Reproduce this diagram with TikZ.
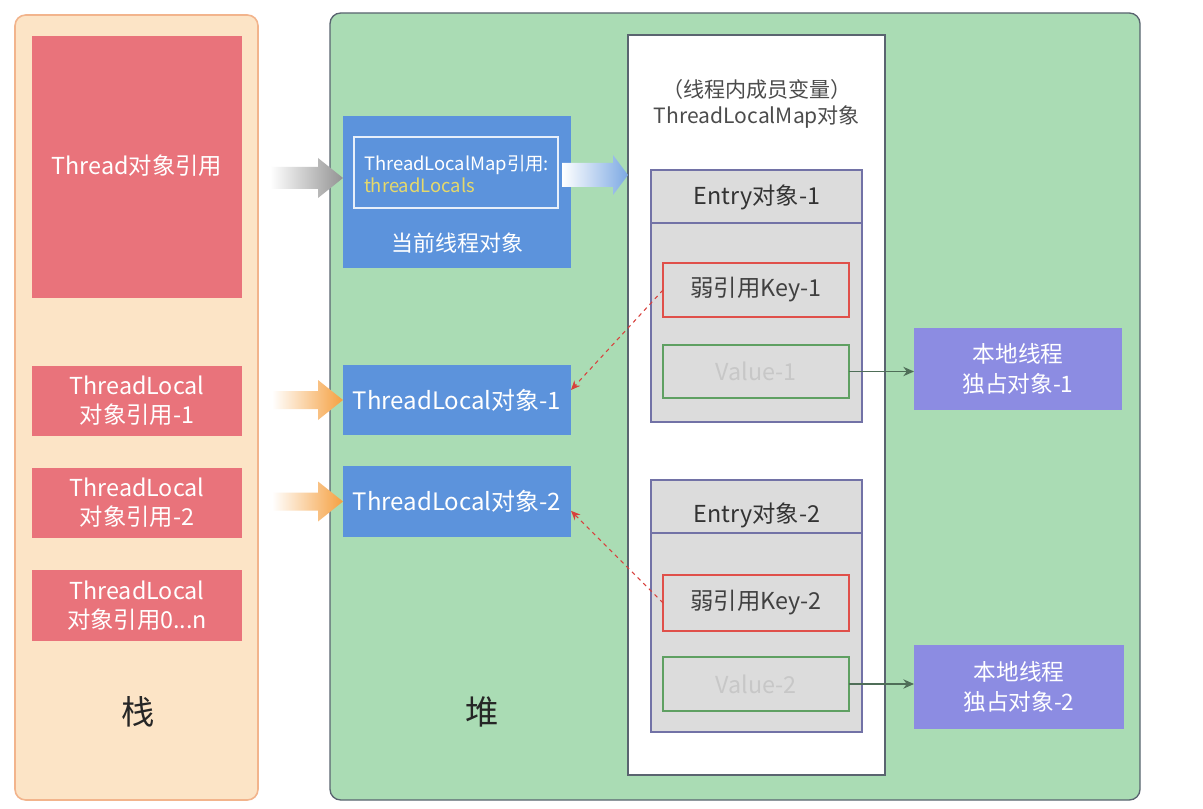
\documentclass[tikz,border=0pt]{standalone}
\usepackage{fontspec}
\setmainfont{Noto Sans CJK SC}
\usetikzlibrary{fit,arrows.meta,shadings}
\definecolor{stackbg}{HTML}{FCE4C6}
\definecolor{stackbd}{HTML}{F2B48C}
\definecolor{redbox}{HTML}{E9737B}
\definecolor{heapbg}{HTML}{AADCB4}
\definecolor{heapbd}{HTML}{5A6470}
\definecolor{bluebox}{HTML}{5C93DC}
\definecolor{purplebox}{HTML}{8C8CE2}
\definecolor{entrybg}{HTML}{DCDCDC}
\definecolor{entrybd}{HTML}{7272A6}
\definecolor{keybd}{HTML}{E0504A}
\definecolor{valbd}{HTML}{5FA062}
\definecolor{arrgreen}{HTML}{4F6E58}
\definecolor{dashred}{HTML}{D8403C}
\definecolor{orangearr}{HTML}{F5A040}
\definecolor{yellowtxt}{HTML}{E6D96A}
\tikzset{
  fbox/.style={inner sep=0pt, outer sep=0pt, align=center},
  txt/.style={inner sep=0pt, outer sep=0pt, align=center},
  wtxt/.style={txt, text=white, font=\fontsize{17.5}{22}\selectfont},
  ptxt/.style={txt, text=white, font=\fontsize{17}{22}\selectfont},
  ktxt/.style={txt, text=black!75, font=\fontsize{17.5}{21}\selectfont},
  vtxt/.style={txt, text=black!22, font=\fontsize{17.5}{21}\selectfont},
  redcell/.style={fbox, fill=redbox},
  bluecell/.style={fbox, fill=bluebox},
  purplecell/.style={fbox, fill=purplebox},
  entrycell/.style={fbox, fill=entrybg, draw=entrybd, line width=1pt},
  keycell/.style={fbox, draw=keybd, line width=1pt},
  valcell/.style={fbox, draw=valbd, line width=0.8pt},
  weak/.style={draw=dashred, dashed, line width=0.8pt, -{Stealth[length=7pt,width=6pt]}},
  own/.style={draw=arrgreen, line width=1pt, -{Stealth[length=8pt,width=7pt]}},
}
\begin{document}
\begin{tikzpicture}[x=0.75pt,y=-0.75pt]
\useasboundingbox (0,0) rectangle (1203,809);
\fill[white] (0,0) rectangle (1203,809);
% stack panel
\node[fbox, fit={(15,15)(258,800)}, fill=stackbg, draw=stackbd, line width=1.2pt, rounded corners=8pt] (stack) {};
\node[txt, font=\fontsize{25}{28}\selectfont, text=black!85] (stacklbl) at (138,712) {栈};
% heap panel
\node[fbox, fit={(330,13)(1140,800)}, fill=heapbg, draw=heapbd, line width=1pt, rounded corners=8pt] (heap) {};
\node[txt, font=\fontsize{25}{28}\selectfont, text=black!85] (heaplbl) at (482,712) {堆};
% stack cells
\node[redcell, fit={(32,36)(242,298)}] (thr) {};
\node[wtxt] (thrt) at ([yshift={-3*0.75pt}]thr.center |- 0,163) {Thread对象引用};
\node[redcell, fit={(32,366)(242,436)}] (r1) {};
\node[wtxt] (r1t) at (r1.center) {ThreadLocal\\对象引用-1};
\node[redcell, fit={(32,468)(242,538)}] (r2) {};
\node[wtxt] (r2t) at (r2.center) {ThreadLocal\\对象引用-2};
\node[redcell, fit={(32,570)(242,641)}] (rn) {};
\node[wtxt] (rnt) at (rn.center) {ThreadLocal\\对象引用0...n};
% current thread object
\node[bluecell, fit={(343,116)(571,268)}] (cur) {};
\node[fbox, fit={(354,137)(558,208)}, draw=white!85!bluebox, line width=1pt] (inner) {};
\node[txt, anchor=west, text=white, font=\fontsize{13.8}{17}\selectfont, align=left] (innertxt) at (364,174) {ThreadLocalMap引用:\\\textcolor{yellowtxt}{threadLocals}};
\node[txt, text=white, font=\fontsize{16.5}{20}\selectfont] (curlbl) at (457,243) {当前线程对象};
% threadlocal objects
\node[bluecell, fit={(343,365)(571,435)}] (tl1) {};
\node[wtxt, font=\fontsize{18}{22}\selectfont] (tl1t) at (tl1.center) {ThreadLocal对象-1};
\node[bluecell, fit={(343,466)(571,537)}] (tl2) {};
\node[wtxt, font=\fontsize{18}{22}\selectfont] (tl2t) at (tl2.center) {ThreadLocal对象-2};
% map box
\node[fbox, fit={(628,35)(885,775)}, fill=white, draw=heapbd, line width=1.2pt] (map) {};
\node[txt, text=black!70, font=\fontsize{15.8}{20}\selectfont] (maptitle) at (757,104) {（线程内成员变量）\\ThreadLocalMap对象};
% entries
\node[entrycell, fit={(651,170)(862,422)}] (e1) {};
\draw[entrybd, line width=1pt] (e1.west |- 0,223) -- (e1.east |- 0,223);
\node[ktxt, text=black!80] (e1t) at (757,197) {Entry对象-1};
\node[keycell, fit={(663,263)(849,317)}] (k1) {};
\node[ktxt] (k1t) at (k1.center) {弱引用Key-1};
\node[valcell, fit={(663,345)(849,398)}] (v1) {};
\node[vtxt] (v1t) at (v1.center) {Value-1};
\node[entrycell, fit={(651,480)(862,732)}] (e2) {};
\draw[entrybd, line width=1pt] (e2.west |- 0,533) -- (e2.east |- 0,533);
\node[ktxt, text=black!80] (e2t) at (757,515) {Entry对象-2};
\node[keycell, fit={(663,575)(849,631)}] (k2) {};
\node[ktxt] (k2t) at (k2.center) {弱引用Key-2};
\node[valcell, fit={(663,657)(849,711)}] (v2) {};
\node[vtxt] (v2t) at (v2.center) {Value-2};
% local objects
\node[purplecell, fit={(914,328)(1122,410)}] (o1) {};
\node[ptxt] (o1t) at (o1.center) {本地线程\\独占对象-1};
\node[purplecell, fit={(914,645)(1124,729)}] (o2) {};
\node[ptxt] (o2t) at (o2.center) {本地线程\\独占对象-2};
% connectors
\draw[own] (v1.east) -- (o1.west |- v1.east);
\draw[own] (v2.east) -- (o2.west |- v2.east);
\draw[weak] (k1.west) -- ([yshift=7.5pt]tl1.east);
\draw[weak] (k2.west) -- ([yshift=-7pt]tl2.east);
% fat arrows
\shade[left color=white, right color=gray!85] ([xshift={-73*0.75pt}, yshift={-11*0.75pt}]cur.west |- 0,178) -- ([xshift={-25*0.75pt}, yshift={-11*0.75pt}]cur.west |- 0,178) -- ([xshift={-25*0.75pt}, yshift={-20*0.75pt}]cur.west |- 0,178) -- (cur.west |- 0,178) -- ([xshift={-25*0.75pt}, yshift={20*0.75pt}]cur.west |- 0,178) -- ([xshift={-25*0.75pt}, yshift={11*0.75pt}]cur.west |- 0,178) -- ([xshift={-73*0.75pt}, yshift={11*0.75pt}]cur.west |- 0,178) -- cycle;
\foreach \t in {tl1,tl2}{
\shade[left color=white, right color=orangearr] ([xshift={-71*0.75pt}, yshift={-9*0.75pt}]\t.west) -- ([xshift={-25*0.75pt}, yshift={-9*0.75pt}]\t.west) -- ([xshift={-25*0.75pt}, yshift={-20*0.75pt}]\t.west) -- (\t.west) -- ([xshift={-25*0.75pt}, yshift={20*0.75pt}]\t.west) -- ([xshift={-25*0.75pt}, yshift={9*0.75pt}]\t.west) -- ([xshift={-71*0.75pt}, yshift={9*0.75pt}]\t.west) -- cycle;
}
\shade[left color=white, right color=bluebox!80] ([xshift={-9*0.75pt}, yshift={12*0.75pt}]cur.east |- 0,175) -- ([xshift={42*0.75pt}, yshift={12*0.75pt}]cur.east |- 0,175) -- ([xshift={42*0.75pt}, yshift={20*0.75pt}]cur.east |- 0,175) -- (map.west |- 0,175) -- ([xshift={42*0.75pt}, yshift={-20*0.75pt}]cur.east |- 0,175) -- ([xshift={42*0.75pt}, yshift={-12*0.75pt}]cur.east |- 0,175) -- ([xshift={-9*0.75pt}, yshift={-12*0.75pt}]cur.east |- 0,175) -- cycle;
\end{tikzpicture}
\end{document}
